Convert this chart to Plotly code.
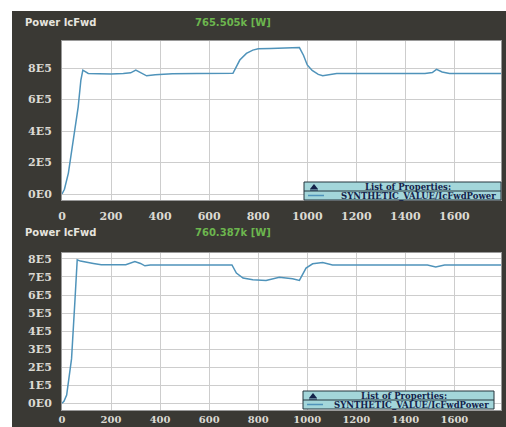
import plotly.graph_objects as go

# ---- data: forward power trend, two captures ----
top_title = "Power IcFwd"
top_readout = "765.505k [W]"
top_t = [0, 10, 26, 45, 66, 77, 85, 95, 107, 150, 200, 250, 280, 301, 320, 345, 380,
         450, 550, 650, 697, 725, 752, 778, 800, 850, 900, 950, 968, 985, 1000, 1020,
         1045, 1063, 1090, 1120, 1200, 1300, 1400, 1480, 1510, 1527, 1550, 1580, 1650,
         1720, 1790]
top_p = [0, 30e3, 133e3, 330e3, 554e3, 724e3, 787e3, 778e3, 766e3, 764e3, 762e3, 765e3,
         770e3, 787e3, 770e3, 751e3, 758e3, 764e3, 765e3, 765e3, 767e3, 851e3, 893e3,
         914e3, 922e3, 925e3, 928e3, 932e3, 930e3, 880e3, 820e3, 785e3, 760e3, 751e3,
         758e3, 765e3, 766e3, 765e3, 765e3, 766e3, 772e3, 792e3, 775e3, 766e3, 765e3,
         764e3, 765e3]

bot_title = "Power IcFwd"
bot_readout = "760.387k [W]"
bot_t = [0, 8, 19, 39, 53, 60, 62, 75, 100, 128, 160, 200, 260, 297, 320, 338, 360, 400,
         500, 600, 693, 711, 738, 778, 832, 886, 940, 968, 995, 1022, 1063, 1103, 1200,
         1300, 1400, 1490, 1524, 1560, 1650, 1790]
bot_p = [0, 10e3, 45e3, 247e3, 575e3, 740e3, 795e3, 788e3, 780e3, 775e3, 768e3, 767e3,
         768e3, 785e3, 775e3, 762e3, 766e3, 767e3, 767e3, 767e3, 767e3, 722e3, 694e3,
         685e3, 681e3, 698e3, 690e3, 681e3, 749e3, 773e3, 780e3, 767e3, 767e3, 767e3,
         767e3, 767e3, 755e3, 766e3, 767e3, 767e3]

x_ticks = [0, 200, 400, 600, 800, 1000, 1200, 1400, 1600]
top_y_ticks = [0, 2e5, 4e5, 6e5, 8e5]
top_y_text = ["0E0", "2E5", "4E5", "6E5", "8E5"]
bot_y_ticks = [0, 1e5, 2e5, 3e5, 4e5, 5e5, 6e5, 7e5, 8e5]
bot_y_text = ["0E0", "1E5", "2E5", "3E5", "4E5", "5E5", "6E5", "7E5", "8E5"]
series_name = "SYNTHETIC_VALUE/IcFwdPower"
legend_title = "List of Properties:"

# ---- styling ----
W, H = 506, 427
ML, MR, MT, MB = 62, 5, 41, 15
BG = "#3a3934"
LINE = "#4f93ba"
GRID = "#cdcdcd"
TICK_COL = "#dcdad3"
GREEN = "#6cb64e"
LEG_BG = "#a3d6da"
LEG_TXT = "#14224a"

PW = W - ML - MR
PH = H - MT - MB


def px(x):
    return (x - ML) / PW


def py(y):
    return (H - MB - y) / PH


# plot areas in pixel terms: top 41..200, bottom 253..410
top_dom = [py(200), py(41)]
bot_dom = [py(410), py(253)]

fig = go.Figure()
fig.add_trace(go.Scatter(x=top_t, y=top_p, mode="lines", name=series_name,
                         line=dict(color=LINE, width=1.5), xaxis="x", yaxis="y",
                         showlegend=False))
fig.add_trace(go.Scatter(x=bot_t, y=bot_p, mode="lines", name=series_name,
                         line=dict(color=LINE, width=1.5), xaxis="x2", yaxis="y2",
                         showlegend=False))

tickfont = dict(family="DejaVu Serif", size=11, color=TICK_COL, weight="bold")
low_tickfont = dict(family="DejaVu Serif", size=10, color=TICK_COL, weight="bold")
xcommon = dict(range=[0, 1790], tickvals=x_ticks, showgrid=True, gridcolor=GRID,
               gridwidth=1, zeroline=False, showline=True, linecolor="#9a9a9a",
               mirror=True, ticks="outside", tickcolor=BG, automargin=False)
ycommon = dict(showgrid=True, gridcolor=GRID, gridwidth=1, zeroline=False,
               showline=True, linecolor="#9a9a9a", mirror=True, ticks="outside",
               ticklen=7, tickcolor=BG, tickfont=tickfont, automargin=False)

fig.update_layout(
    width=W, height=H,
    margin=dict(l=ML, r=MR, t=MT, b=MB),
    paper_bgcolor=BG, plot_bgcolor="white",
    xaxis=dict(domain=[0, 1], anchor="y", ticklen=6, tickfont=tickfont, **xcommon),
    yaxis=dict(domain=top_dom, anchor="x", range=[-38e3, 972e3],
               tickvals=top_y_ticks, ticktext=top_y_text, **ycommon),
    # the lower axis sits tight against the page bottom, so its labels hug the plot
    xaxis2=dict(domain=[0, 1], anchor="y2", ticklen=0, tickfont=low_tickfont,
                **xcommon),
    yaxis2=dict(domain=bot_dom, anchor="x2", range=[-38e3, 833e3],
                tickvals=bot_y_ticks, ticktext=bot_y_text, **ycommon),
)

shapes = []
annotations = []

# white strips along the top and left edges of the page
shapes.append(dict(type="rect", xref="paper", yref="paper", x0=px(0), x1=px(W),
                   y0=py(11), y1=py(0), fillcolor="white", line=dict(width=0),
                   layer="above"))
shapes.append(dict(type="rect", xref="paper", yref="paper", x0=px(0), x1=px(12),
                   y0=py(H), y1=py(0), fillcolor="white", line=dict(width=0),
                   layer="above"))

title_font = dict(family="DejaVu Sans", size=10, color="#e6e4de", weight="bold")
readout_font = dict(family="DejaVu Sans", size=10, color=GREEN, weight="bold")

for title, readout, ty in [(top_title, top_readout, 22), (bot_title, bot_readout, 233)]:
    annotations.append(dict(xref="paper", yref="paper", x=px(23), y=py(ty),
                            xanchor="left", yanchor="middle", text=title,
                            showarrow=False, font=title_font))
    annotations.append(dict(xref="paper", yref="paper", x=px(193), y=py(ty),
                            xanchor="left", yanchor="middle", text=readout,
                            showarrow=False, font=readout_font))

# property list boxes in the lower-right corner of each plot
leg_font = dict(family="DejaVu Serif", size=8.5, color=LEG_TXT, weight="bold")
for x0, x1, y0, y1 in [(304, 501, 182, 200), (303, 494, 391, 409)]:
    ym = (y0 + y1) / 2
    shapes.append(dict(type="rect", xref="paper", yref="paper", x0=px(x0), x1=px(x1),
                       y0=py(y1), y1=py(y0), fillcolor=LEG_BG,
                       line=dict(color="#24343c", width=1), layer="above"))
    shapes.append(dict(type="line", xref="paper", yref="paper", x0=px(x0), x1=px(x1),
                       y0=py(ym), y1=py(ym), line=dict(color="#24343c", width=1),
                       layer="above"))
    # small glyph at the head of the list
    shapes.append(dict(type="path", xref="paper", yref="paper",
                       path="M {} {} L {} {} L {} {} Z".format(
                           px(x0 + 6), py(ym - 2), px(x0 + 14), py(ym - 2),
                           px(x0 + 10), py(y0 + 2)),
                       fillcolor=LEG_TXT, line=dict(width=0), layer="above"))
    shapes.append(dict(type="line", xref="paper", yref="paper", x0=px(x0 + 6),
                       x1=px(x0 + 14), y0=py(ym - 1), y1=py(ym - 1),
                       line=dict(color=LEG_TXT, width=1), layer="above"))
    # series swatch
    shapes.append(dict(type="line", xref="paper", yref="paper", x0=px(x0 + 4),
                       x1=px(x0 + 20), y0=py((ym + y1) / 2), y1=py((ym + y1) / 2),
                       line=dict(color=LINE, width=1.5), layer="above"))
    annotations.append(dict(xref="paper", yref="paper", x=px((x0 + x1) / 2 + 5),
                            y=py((y0 + ym) / 2), xanchor="center", yanchor="middle",
                            text=legend_title, showarrow=False, font=leg_font))
    annotations.append(dict(xref="paper", yref="paper", x=px(x1 - 3),
                            y=py((ym + y1) / 2), xanchor="right", yanchor="middle",
                            text=series_name, showarrow=False, font=leg_font))

fig.update_layout(shapes=shapes, annotations=annotations)
fig.write_html("out.html")
